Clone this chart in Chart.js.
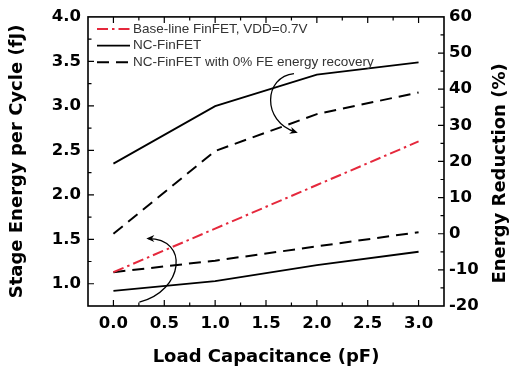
<!DOCTYPE html>
<html>
<head>
<meta charset="utf-8">
<script src="https://cdn.jsdelivr.net/npm/chart.js@4.4.1/dist/chart.umd.min.js"></script>
<style>
  html, body { margin: 0; padding: 0; background: #fff; }
  #wrap { width: 516px; height: 371px; }
</style>
</head>
<body>
<div id="wrap"><canvas id="c" width="516" height="371"></canvas></div>
<script>
// ---- Data ----
const loadCap = [0, 1, 2, 3];                       // pF
const baselineEnergy = [1.13, 1.62, 2.11, 2.60];     // fJ, left axis
const ncEnergy = [0.92, 1.03, 1.21, 1.36];           // fJ, left axis
const nc0Energy = [1.13, 1.26, 1.42, 1.58];          // fJ, left axis
const ncReduction = [19.4, 35.3, 44.0, 47.4];        // %, right axis
const nc0Reduction = [0, 22.9, 33.1, 39.1];          // %, right axis

const seriesLabels = [
  'Base-line FinFET, VDD=0.7V',
  'NC-FinFET',
  'NC-FinFET with 0% FE energy recovery'
];
const xTitle = 'Load Capacitance (pF)';
const yTitle = 'Stage Energy per Cycle (fJ)';
const y1Title = 'Energy Reduction (%)';

// curved annotation arrows (data coords, left axis): start, ctrl1, ctrl2, head
const arrowUpper = [[1.775, 3.363], [1.480, 3.330], [1.451, 2.827], [1.794, 2.704]];
const arrowLower = [[0.255, 0.793], [0.696, 0.927], [0.745, 1.508], [0.343, 1.508]];

const RED = '#e5283c';
const pts = (ys) => loadCap.map((x, i) => ({ x, y: ys[i] }));

const TICK_FONT = { family: 'DejaVu Sans', weight: 'bold', size: 16.5 };
const TITLE_FONT = { family: 'DejaVu Sans', weight: 'bold', size: 18 };

const frame = {
  id: 'frame',
  afterDatasetsDraw(chart) {
    const { ctx, chartArea: a, scales } = chart;
    ctx.save();
    ctx.strokeStyle = '#000';
    ctx.lineWidth = 1.6;
    ctx.strokeRect(a.left, a.top, a.right - a.left, a.bottom - a.top);
    ctx.lineWidth = 1.2;
    const near = (v, s) => Math.abs(v / s - Math.round(v / s)) < 1e-6;
    ctx.beginPath();
    scales.x.ticks.forEach(t => {
      if (t.value <= scales.x.min + 1e-9 || t.value >= scales.x.max - 1e-9) return;
      const px = scales.x.getPixelForValue(t.value);
      const L = near(t.value, 0.5) ? 6 : 3.5;
      ctx.moveTo(px, a.bottom); ctx.lineTo(px, a.bottom - L);
      ctx.moveTo(px, a.top); ctx.lineTo(px, a.top + L);
    });
    scales.y.ticks.forEach(t => {
      if (t.value <= scales.y.min + 1e-9 || t.value >= scales.y.max - 1e-9) return;
      const py = scales.y.getPixelForValue(t.value);
      const L = near(t.value, 0.5) ? 6 : 3.5;
      ctx.moveTo(a.left, py); ctx.lineTo(a.left + L, py);
    });
    scales.y1.ticks.forEach(t => {
      if (t.value <= scales.y1.min + 1e-9 || t.value >= scales.y1.max - 1e-9) return;
      const py = scales.y1.getPixelForValue(t.value);
      const L = near(t.value, 10) ? 6 : 3.5;
      ctx.moveTo(a.right, py); ctx.lineTo(a.right - L, py);
    });
    ctx.stroke();

    // curved arrows
    const drawArrow = (arr) => {
      const p = arr.map(([x, y]) => [scales.x.getPixelForValue(x), scales.y.getPixelForValue(y)]);
      ctx.beginPath();
      ctx.lineWidth = 1.3;
      ctx.moveTo(p[0][0], p[0][1]);
      ctx.bezierCurveTo(p[1][0], p[1][1], p[2][0], p[2][1], p[3][0], p[3][1]);
      ctx.stroke();
      const ang = Math.atan2(p[3][1] - p[2][1], p[3][0] - p[2][0]);
      const hl = 8, hw = 3.5;
      const hx = p[3][0] + Math.cos(ang) * 2, hy = p[3][1] + Math.sin(ang) * 2;
      ctx.beginPath();
      ctx.moveTo(hx, hy);
      ctx.lineTo(hx - hl * Math.cos(ang) + hw * Math.sin(ang), hy - hl * Math.sin(ang) - hw * Math.cos(ang));
      ctx.lineTo(hx - hl * 0.7 * Math.cos(ang), hy - hl * 0.7 * Math.sin(ang));
      ctx.lineTo(hx - hl * Math.cos(ang) - hw * Math.sin(ang), hy - hl * Math.sin(ang) + hw * Math.cos(ang));
      ctx.closePath();
      ctx.fillStyle = '#000';
      ctx.fill();
    };
    drawArrow(arrowUpper);
    drawArrow(arrowLower);

    // legend (first three datasets)
    ctx.font = '13.5px "Liberation Sans", Arial, sans-serif';
    ctx.textBaseline = 'middle';
    ctx.textAlign = 'left';
    for (let i = 0; i < 3; i++) {
      const ds = chart.data.datasets[i];
      const y = a.top + 12 + i * 16.7;
      ctx.beginPath();
      ctx.strokeStyle = ds.borderColor;
      ctx.lineWidth = ds.borderWidth;
      ctx.setLineDash(ds.borderDash || []);
      ctx.moveTo(a.left + 9, y); ctx.lineTo(a.left + 42, y);
      ctx.stroke();
      ctx.setLineDash([]);
      ctx.fillStyle = '#333';
      ctx.fillText(ds.label, a.left + 45, y);
    }

    // right axis title, reading bottom-to-top like the reference
    ctx.save();
    ctx.translate(500, (a.top + a.bottom) / 2 + 12);
    ctx.rotate(-Math.PI / 2);
    ctx.font = 'bold 18px "DejaVu Sans"';
    ctx.fillStyle = '#000';
    ctx.textAlign = 'center';
    ctx.textBaseline = 'middle';
    ctx.fillText(y1Title, 0, 0);
    ctx.restore();

    ctx.restore();
  }
};

new Chart(document.getElementById('c'), {
  type: 'line',
  data: {
    datasets: [
      { label: seriesLabels[0], data: pts(baselineEnergy), yAxisID: 'y',
        borderColor: RED, borderWidth: 2, borderDash: [11, 4, 2.5, 4] },
      { label: seriesLabels[1], data: pts(ncEnergy), yAxisID: 'y',
        borderColor: '#000', borderWidth: 1.8 },
      { label: seriesLabels[2], data: pts(nc0Energy), yAxisID: 'y',
        borderColor: '#000', borderWidth: 2, borderDash: [12, 7] },
      { label: seriesLabels[1] + ' reduction', data: pts(ncReduction), yAxisID: 'y1',
        borderColor: '#000', borderWidth: 1.8 },
      { label: seriesLabels[2] + ' reduction', data: pts(nc0Reduction), yAxisID: 'y1',
        borderColor: '#000', borderWidth: 2, borderDash: [12, 7] }
    ]
  },
  options: {
    responsive: false,
    animation: false,
    layout: { padding: { top: 15, left: 0, right: 0, bottom: 0 } },
    elements: { point: { radius: 0 }, line: { tension: 0, fill: false } },
    plugins: { legend: { display: false }, tooltip: { enabled: false } },
    scales: {
      x: {
        type: 'linear', min: -0.25, max: 3.25,
        grid: { display: false, drawTicks: false }, border: { display: false },
        ticks: {
          stepSize: 0.25, padding: 8, color: '#000', font: TICK_FONT, maxRotation: 0, autoSkip: false,
          callback: (v) => (v >= 0 && v <= 3 && Math.abs(v * 2 - Math.round(v * 2)) < 1e-6) ? v.toFixed(1) : ''
        },
        title: { display: true, text: xTitle, color: '#000', font: TITLE_FONT, padding: { top: 0, bottom: 3 } },
        afterFit: (s) => { s.height = 65; }
      },
      y: {
        position: 'left', min: 0.75, max: 4.0,
        grid: { display: false, drawTicks: false }, border: { display: false },
        ticks: {
          stepSize: 0.25, padding: 7, color: '#000', font: TICK_FONT, autoSkip: false,
          callback: (v) => (v >= 1 && Math.abs(v * 2 - Math.round(v * 2)) < 1e-6) ? v.toFixed(1) : ''
        },
        title: { display: true, text: yTitle, color: '#000', font: TITLE_FONT, padding: { top: 7, bottom: 0 } },
        afterFit: (s) => { s.width = 88; }
      },
      y1: {
        position: 'right', min: -20, max: 60,
        grid: { display: false, drawTicks: false }, border: { display: false },
        ticks: {
          stepSize: 5, padding: 5, color: '#000', font: TICK_FONT, autoSkip: false,
          callback: (v) => (Math.abs(v / 10 - Math.round(v / 10)) < 1e-6) ? String(v) : ''
        },
        title: { display: false, text: y1Title },
        afterFit: (s) => { s.width = 72; }
      }
    }
  },
  plugins: [frame]
});
</script>
</body>
</html>
